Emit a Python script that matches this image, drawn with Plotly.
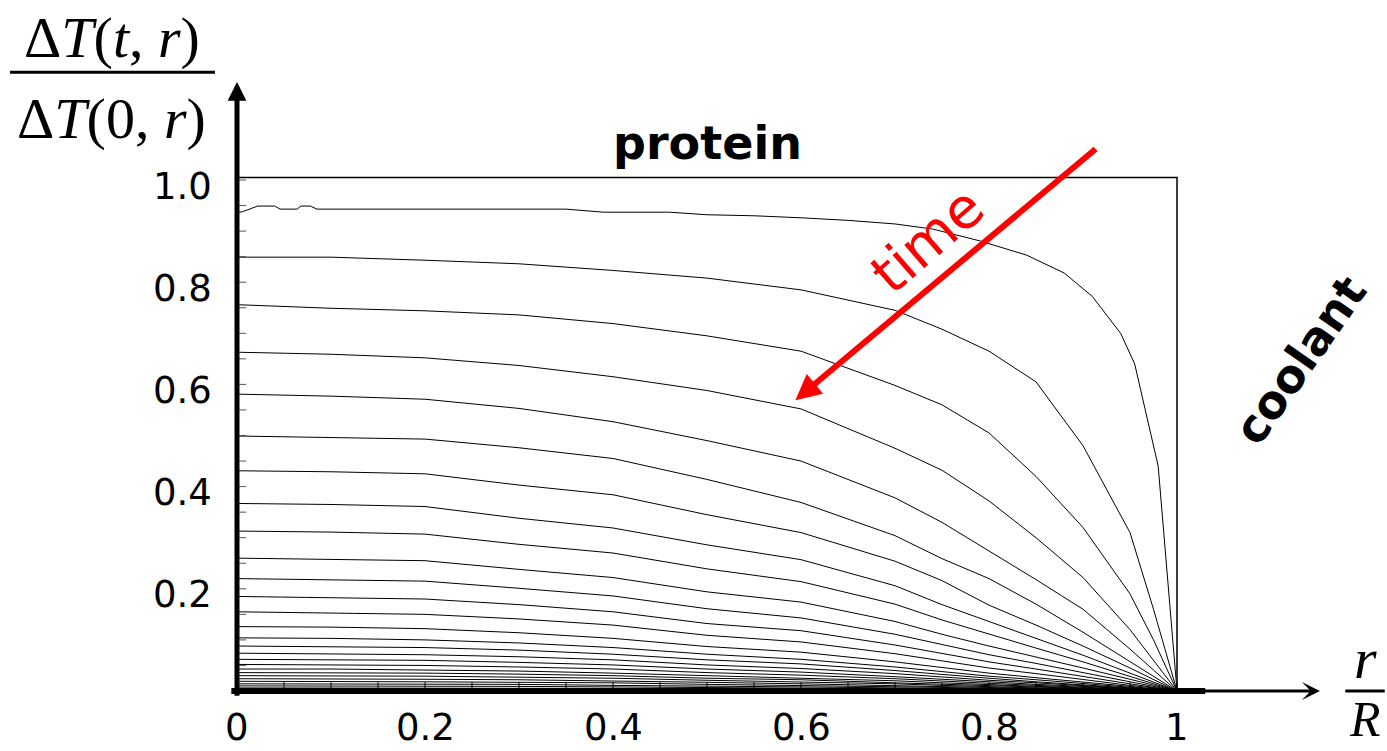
import plotly.graph_objects as go

# ---------------- data ----------------
R = [0, 0.1, 0.2, 0.3, 0.4, 0.5, 0.6, 0.7, 0.75, 0.8, 0.85, 0.9, 0.95, 0.975, 1.0]

R_FIRST = [0, 0.006, 0.022, 0.04, 0.046, 0.064, 0.068, 0.078, 0.085, 0.35, 0.39, 0.46,
           0.5, 0.55, 0.6, 0.65, 0.7, 0.74, 0.79, 0.84, 0.88, 0.91, 0.94, 0.955, 0.98, 1.0]
T_FIRST = [0.936, 0.938, 0.949, 0.949, 0.943, 0.943, 0.949, 0.949, 0.943, 0.943, 0.937, 0.937,
           0.932, 0.930, 0.926, 0.921, 0.914, 0.904, 0.881, 0.853, 0.818, 0.772, 0.700, 0.640, 0.440, 0.0]

t02 = [0.849, 0.849, 0.843, 0.836, 0.823, 0.808, 0.785, 0.745, 0.708, 0.665, 0.605, 0.480, 0.310, 0.160, 0.0]
t03 = [0.756, 0.749, 0.744, 0.736, 0.719, 0.695, 0.665, 0.598, 0.560, 0.505, 0.420, 0.320, 0.190, 0.100, 0.0]
t04 = [0.663, 0.659, 0.652, 0.637, 0.615, 0.588, 0.552, 0.475, 0.432, 0.372, 0.300, 0.222, 0.120, 0.060, 0.0]
t05 = [0.581, 0.577, 0.571, 0.553, 0.527, 0.490, 0.450, 0.378, 0.330, 0.274, 0.218, 0.160, 0.082, 0.041, 0.0]
t06 = [0.499, 0.496, 0.493, 0.476, 0.455, 0.414, 0.369, 0.304, 0.259, 0.220, 0.170, 0.115, 0.057, 0.029, 0.0]
t07 = [0.431, 0.429, 0.425, 0.403, 0.384, 0.345, 0.310, 0.254, 0.216, 0.168, 0.129, 0.088, 0.045, 0.023, 0.0]
t08 = [0.367, 0.365, 0.361, 0.338, 0.319, 0.286, 0.257, 0.206, 0.169, 0.136, 0.103, 0.070, 0.035, 0.018, 0.0]
t09 = [0.313, 0.311, 0.307, 0.287, 0.270, 0.239, 0.214, 0.170, 0.139, 0.111, 0.084, 0.057, 0.028, 0.014, 0.0]
t10 = [0.260, 0.258, 0.255, 0.238, 0.222, 0.194, 0.174, 0.136, 0.111, 0.088, 0.067, 0.045, 0.023, 0.011, 0.0]
t11 = [0.220, 0.218, 0.215, 0.201, 0.186, 0.161, 0.143, 0.111, 0.091, 0.071, 0.054, 0.036, 0.018, 0.009, 0.0]
t12 = [0.185, 0.183, 0.180, 0.169, 0.155, 0.132, 0.118, 0.090, 0.073, 0.057, 0.043, 0.028, 0.014, 0.007, 0.0]
t13 = [0.155, 0.153, 0.150, 0.141, 0.129, 0.109, 0.096, 0.073, 0.059, 0.045, 0.034, 0.022, 0.011, 0.006, 0.0]
t14 = [0.126, 0.125, 0.122, 0.114, 0.103, 0.087, 0.076, 0.057, 0.046, 0.035, 0.026, 0.018, 0.009, 0.004, 0.0]
t15 = [0.104, 0.103, 0.100, 0.094, 0.085, 0.072, 0.062, 0.047, 0.038, 0.029, 0.022, 0.015, 0.007, 0.004, 0.0]
t16 = [0.088, 0.087, 0.085, 0.080, 0.072, 0.061, 0.053, 0.040, 0.032, 0.025, 0.018, 0.012, 0.006, 0.003, 0.0]
t17 = [0.074, 0.073, 0.071, 0.067, 0.061, 0.051, 0.044, 0.034, 0.027, 0.021, 0.016, 0.010, 0.005, 0.003, 0.0]
t18 = [0.062, 0.061, 0.060, 0.056, 0.051, 0.043, 0.037, 0.028, 0.023, 0.017, 0.013, 0.009, 0.004, 0.002, 0.0]
t19 = [0.052, 0.051, 0.050, 0.047, 0.043, 0.036, 0.031, 0.024, 0.019, 0.015, 0.011, 0.007, 0.004, 0.002, 0.0]
t20 = [0.043, 0.043, 0.041, 0.039, 0.035, 0.030, 0.026, 0.020, 0.016, 0.012, 0.009, 0.006, 0.003, 0.002, 0.0]
t21 = [0.036, 0.036, 0.035, 0.033, 0.030, 0.025, 0.022, 0.016, 0.013, 0.010, 0.008, 0.005, 0.003, 0.001, 0.0]
t22 = [0.030, 0.030, 0.029, 0.027, 0.025, 0.021, 0.018, 0.014, 0.011, 0.008, 0.006, 0.004, 0.002, 0.001, 0.0]
t23 = [0.024, 0.024, 0.023, 0.022, 0.020, 0.017, 0.014, 0.011, 0.009, 0.007, 0.005, 0.003, 0.002, 0.001, 0.0]
t24 = [0.019, 0.019, 0.018, 0.017, 0.016, 0.013, 0.011, 0.009, 0.007, 0.005, 0.004, 0.003, 0.001, 0.001, 0.0]
t25 = [0.014, 0.014, 0.014, 0.013, 0.011, 0.010, 0.008, 0.006, 0.005, 0.004, 0.003, 0.002, 0.001, 0.0, 0.0]
t26 = [0.010, 0.010, 0.010, 0.009, 0.008, 0.007, 0.006, 0.005, 0.004, 0.003, 0.002, 0.001, 0.001, 0.0, 0.0]
t27 = [0.006, 0.006, 0.006, 0.005, 0.005, 0.004, 0.004, 0.003, 0.002, 0.002, 0.001, 0.001, 0.0, 0.0, 0.0]

CURVES = [t02, t03, t04, t05, t06, t07, t08, t09, t10, t11, t12, t13, t14,
          t15, t16, t17, t18, t19, t20, t21, t22, t23, t24, t25, t26, t27]

X_TICKS = [0, 0.2, 0.4, 0.6, 0.8, 1.0]
X_TICK_LABELS = ["0", "0.2", "0.4", "0.6", "0.8", "1"]
Y_TICKS = [1.0, 0.8, 0.6, 0.4, 0.2]
Y_TICK_LABELS = ["1.0", "0.8", "0.6", "0.4", "0.2"]
MINOR_X = [i * 0.05 for i in range(21)]
MINOR_Y = [i * 0.05 for i in range(1, 21)]

# ---------------- figure ----------------
fig = go.Figure()

fig.add_trace(go.Scatter(x=R_FIRST, y=T_FIRST, mode="lines",
                         line=dict(color="black", width=1), hoverinfo="skip"))
for c in CURVES:
    fig.add_trace(go.Scatter(x=R, y=c, mode="lines",
                             line=dict(color="black", width=1), hoverinfo="skip"))

# small tick marks along the axes
fig.add_trace(go.Scatter(x=MINOR_X, y=[0.009] * len(MINOR_X), mode="markers",
                         marker=dict(symbol="line-ns", size=6,
                                     line=dict(color="black", width=1)),
                         hoverinfo="skip"))
fig.add_trace(go.Scatter(x=[0.006] * len(MINOR_Y), y=MINOR_Y, mode="markers",
                         marker=dict(symbol="line-ew", size=5,
                                     line=dict(color="#555555", width=1)),
                         hoverinfo="skip"))

shapes = []
# frame box
shapes.append(dict(type="rect", xref="x", yref="y", x0=0, y0=0, x1=1, y1=1.005,
                   line=dict(color="black", width=1.5), layer="below"))
# thick x axis line
shapes.append(dict(type="line", xref="x", yref="y", x0=-0.006, y0=0, x1=1.03, y1=0,
                   line=dict(color="black", width=6)))
# fraction bars
shapes.append(dict(type="line", xref="x", yref="y", x0=-0.2415, y0=1.211, x1=-0.0234, y1=1.211,
                   line=dict(color="black", width=3)))
shapes.append(dict(type="line", xref="x", yref="y", x0=1.179, y0=0.0, x1=1.221, y1=0.0,
                   line=dict(color="black", width=3)))

ann = []
# y axis arrow
ann.append(dict(x=0, y=1.192, ax=0, ay=-0.012, xref="x", yref="y", axref="x", ayref="y",
                text="", showarrow=True, arrowhead=2, arrowwidth=5, arrowsize=0.75,
                arrowcolor="black"))
# x axis arrow tip
ann.append(dict(x=1.152, y=0, ax=1.0, ay=0, xref="x", yref="y", axref="x", ayref="y",
                text="", showarrow=True, arrowhead=3, arrowwidth=3, arrowsize=1.0,
                arrowcolor="black"))
# red time arrow
ann.append(dict(x=0.594, y=0.569, ax=0.915, ay=1.063, xref="x", yref="y", axref="x", ayref="y",
                text="", showarrow=True, arrowhead=2, arrowwidth=6, arrowsize=0.85,
                arrowcolor="#ff0000"))

tick_font = dict(family="DejaVu Sans", size=37, color="black")
for v, lab in zip(X_TICKS, X_TICK_LABELS):
    ann.append(dict(x=v, y=-0.071, xref="x", yref="y", text=lab, showarrow=False,
                    xanchor="center", yanchor="middle", font=tick_font))
for v, lab in zip(Y_TICKS, Y_TICK_LABELS):
    ann.append(dict(x=-0.025, y=v - 0.012, xref="x", yref="y", text=lab, showarrow=False,
                    xanchor="right", yanchor="middle", font=tick_font))

serif = dict(family="Liberation Serif", size=58, color="black")
ann.append(dict(x=-0.133, y=1.278, xref="x", yref="y", showarrow=False,
                text="Δ<i>T</i>(<i>t</i>, <i>r</i>)", font=serif,
                xanchor="center", yanchor="middle"))
ann.append(dict(x=-0.133, y=1.121, xref="x", yref="y", showarrow=False,
                text="Δ<i>T</i>(0, <i>r</i>)", font=serif,
                xanchor="center", yanchor="middle"))
ann.append(dict(x=1.2, y=0.064, xref="x", yref="y", showarrow=False,
                text="<i>r</i>", font=serif, xanchor="center", yanchor="middle"))
ann.append(dict(x=1.2, y=-0.054, xref="x", yref="y", showarrow=False,
                text="<i>R</i>", font=dict(family="Liberation Serif", size=50, color="black"),
                xanchor="center", yanchor="middle", borderpad=0))

bold_font = dict(family="DejaVu Sans", size=46, color="black")
ann.append(dict(x=0.5, y=1.072, xref="x", yref="y", showarrow=False,
                text="<b>protein</b>", font=bold_font, xanchor="center", yanchor="middle"))
ann.append(dict(x=1.131, y=0.648, xref="x", yref="y", showarrow=False,
                text="<b>coolant</b>", font=bold_font, textangle=-55,
                xanchor="center", yanchor="middle"))
ann.append(dict(x=0.735, y=0.883, xref="x", yref="y", showarrow=False,
                text="time", font=dict(family="DejaVu Sans", size=56, color="#ff0000"),
                textangle=-41, xanchor="center", yanchor="middle"))

fig.update_layout(
    width=1387, height=751,
    margin=dict(l=0, r=0, t=0, b=0),
    paper_bgcolor="white", plot_bgcolor="white",
    showlegend=False,
    xaxis=dict(range=[-0.25213, 1.22340], visible=False, fixedrange=True),
    yaxis=dict(range=[-0.11742, 1.35225], visible=False, fixedrange=True),
    shapes=shapes, annotations=ann,
)

fig.write_html("out.html",
               config={"displayModeBar": False, "staticPlot": True},
               post_script="document.body.style.margin='0';document.body.style.overflow='hidden';")
